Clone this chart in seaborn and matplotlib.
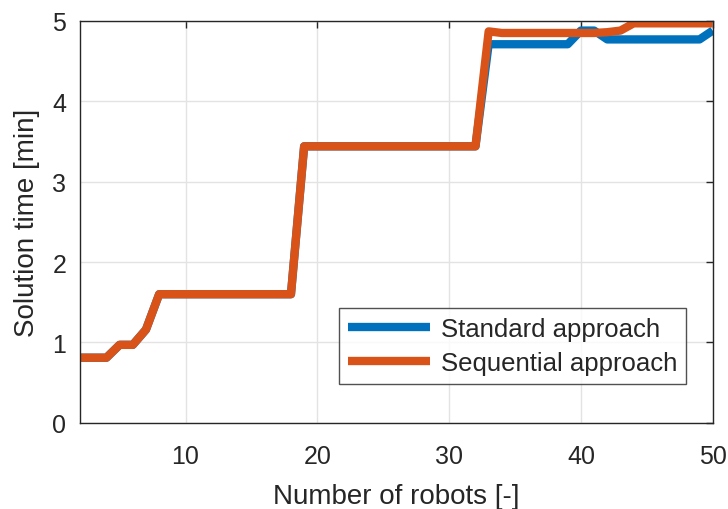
import numpy as np
import pandas as pd
import seaborn as sns
import matplotlib
matplotlib.use("Agg")
import matplotlib.pyplot as plt

# Number of robots and solve times (minutes) for both approaches
robots = list(range(2, 51))
standard = ([0.81, 0.81, 0.81, 0.97, 0.97, 1.16] + [1.60] * 11 + [3.44] * 14
            + [4.71] * 7 + [4.88, 4.88] + [4.77] * 8 + [4.88])
sequential = ([0.81, 0.81, 0.81, 0.97, 0.97, 1.16] + [1.60] * 11 + [3.44] * 14
              + [4.87] + [4.85] * 8 + [4.86, 4.88] + [4.97] * 7)
series_names = ["Standard approach", "Sequential approach"]
colors = ["#0072BD", "#D95319"]

df = pd.DataFrame({
    "robots": robots * 2,
    "time": standard + sequential,
    "approach": [series_names[0]] * len(robots) + [series_names[1]] * len(robots),
})

sns.set_theme(style="whitegrid")
plt.rcParams["font.family"] = ["Liberation Sans", "DejaVu Sans"]

fig = plt.figure(figsize=(7.28, 5.10), dpi=100)
ax = fig.add_axes([0.110, 0.169, 0.869, 0.788])

sns.lineplot(data=df, x="robots", y="time", hue="approach", hue_order=series_names,
             palette=colors, linewidth=6, ax=ax, legend=True,
             solid_joinstyle="round", solid_capstyle="butt")

ax.set_xlim(2, 50)
ax.set_ylim(0, 5)
ax.set_xticks([10, 20, 30, 40, 50])
ax.set_yticks([0, 1, 2, 3, 4, 5])
ax.set_xlabel("Number of robots [-]", fontsize=20, color="#262626", labelpad=11)
ax.set_ylabel("Solution time [min]", fontsize=20, color="#262626", labelpad=9)
ax.tick_params(axis="both", labelsize=18, colors="#262626", direction="in",
               length=5, width=1, top=True, right=True)
ax.tick_params(axis="x", pad=15)
ax.tick_params(axis="y", pad=10)
ax.grid(True, color="#e3e3e3", linewidth=1)
for s in ax.spines.values():
    s.set_color("#262626")
    s.set_linewidth(1)
    s.set_visible(True)

leg = ax.legend(loc="lower right", bbox_to_anchor=(0.958, 0.097), fontsize=18.5,
                frameon=True, fancybox=False, edgecolor="#262626",
                handlelength=3.2, borderpad=0.35, labelspacing=0.4, handletextpad=0.4,
                borderaxespad=0)
leg.get_frame().set_linewidth(1)
for line in leg.get_lines():
    line.set_linewidth(6)

fig.savefig("out.png", dpi=100, facecolor="white")
